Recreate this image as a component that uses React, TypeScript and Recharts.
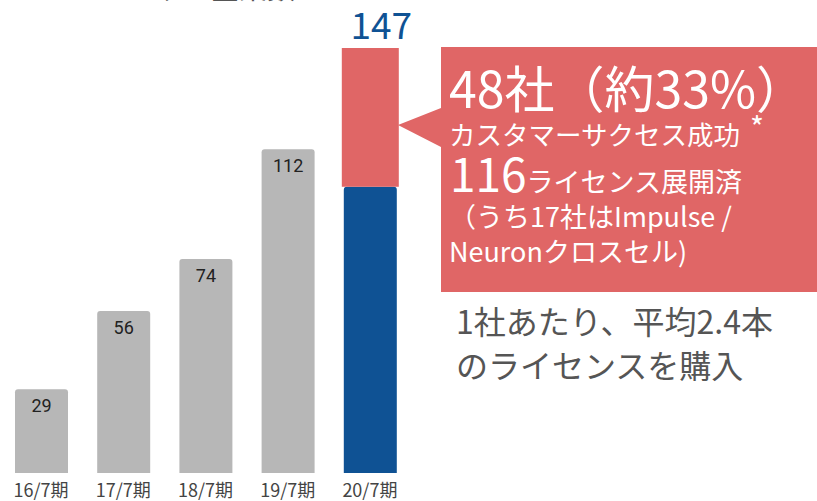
import { BarChart, Bar, XAxis, YAxis, Cell, LabelList } from "recharts";

const categories = ["16/7期", "17/7期", "18/7期", "19/7期", "20/7期"];
const baseValues = [29, 56, 74, 112, 99];
const successValues = [0, 0, 0, 0, 48];
const totalLabel = 147;

const data = categories.map((name, i) => ({
  name,
  base: baseValues[i],
  success: successValues[i],
}));

const GRAY = "#b7b7b7";
const BLUE = "#0f5294";
const RED = "#e06666";
const FONT = "'Noto Sans CJK JP', 'Noto Sans', sans-serif";

const RedShape = (props: any) => {
  const { x, y, width, height } = props;
  if (!height) return null;
  return <rect x={x - 2} y={y} width={width + 4} height={height} fill={RED} />;
};

const InnerLabel = (props: any) => {
  const { x, y, width, value, index } = props;
  if (index === categories.length - 1) return null;
  return (
    <text x={x + width / 2} y={y + 23} textAnchor="middle" fontSize={18} fill="#222" fontFamily="Roboto, sans-serif">
      {value}
    </text>
  );
};

const TotalLabel = (props: any) => {
  const { x, y, width, value } = props;
  if (!value) return null;
  return (
    <text x={x + width / 2 + 11} y={y - 9} textAnchor="middle" fontSize={37} fill={BLUE} fontFamily={FONT}>
      {totalLabel}
    </text>
  );
};

const App = () => {
  return (
    <div style={{ position: "absolute", left: 0, top: 0, width: 817, height: 501 }}>
      <BarChart width={817} height={501} data={data} margin={{ top: 48, right: 406, bottom: 0, left: 0 }} barSize={53}>
        <XAxis
          dataKey="name"
          axisLine={false}
          tickLine={false}
          height={28}
          tickMargin={5}
          tick={{ fontSize: 18, fill: "#444", fontFamily: FONT }}
          interval={0}
        />
        <YAxis hide domain={[0, 147]} />
        <Bar dataKey="base" stackId="a" isAnimationActive={false} radius={[3, 3, 0, 0]}>
          {data.map((_, i) => (
            <Cell key={i} fill={i === categories.length - 1 ? BLUE : GRAY} />
          ))}
          <LabelList dataKey="base" content={InnerLabel} />
        </Bar>
        <Bar dataKey="success" stackId="a" isAnimationActive={false} shape={RedShape}>
          <LabelList dataKey="success" content={TotalLabel} />
        </Bar>
      </BarChart>
      <svg width={817} height={501} style={{ position: "absolute", left: 0, top: 0, pointerEvents: "none" }}>
        <text x={295} y={-1} textAnchor="end" fontSize={28} fill="#555" fontFamily={FONT}>
          ユーザー企業数
        </text>
        <polygon points="441,47 817,47 817,292 441,292 441,147 398,125 441,108" fill={RED} />
        <g fill="#fff" fontFamily={FONT}>
          <text x={449} y={108} fontSize={50}>48社（約33%）</text>
          <text x={449} y={145} fontSize={26.5}>カスタマーサクセス成功</text>
          <text x={750} y={139} fontSize={30}>*</text>
          <text x={450} y={192}>
            <tspan fontSize={46}>116</tspan>
            <tspan fontSize={27}>ライセンス展開済</tspan>
          </text>
          <text x={449} y={227} fontSize={27}>（うち17社はImpulse /</text>
          <text x={449} y={262} fontSize={27}>Neuronクロスセル)</text>
        </g>
        <g fill="#555" fontFamily={FONT} fontSize={32}>
          <text x={456} y={334}>1社あたり、平均2.4本</text>
          <text x={456} y={378}>のライセンスを購入</text>
        </g>
      </svg>
    </div>
  );
};

export default App;
